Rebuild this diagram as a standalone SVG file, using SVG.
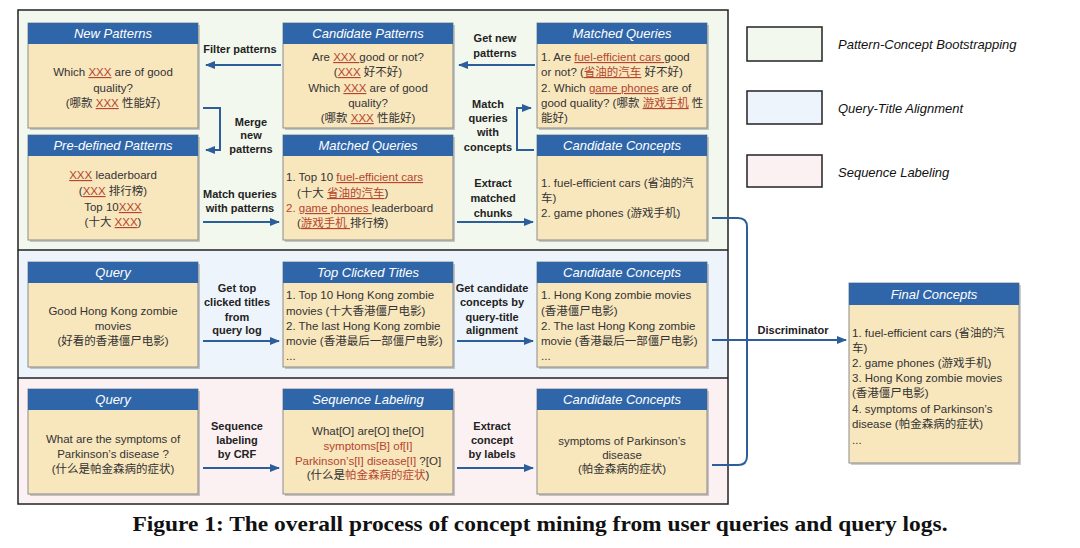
<svg xmlns="http://www.w3.org/2000/svg" width="1080" height="548" viewBox="0 0 1080 548">
<defs>
<marker id="ah" markerWidth="10" markerHeight="8" refX="9" refY="4" orient="auto" markerUnits="userSpaceOnUse"><path d="M0,0 L10,4 L0,8 z" fill="#2c5e9c"/></marker>
</defs>
<style>
.box{fill:#f8e6bd;stroke:#8c8c8c;stroke-width:1}
.sh{fill:#000;opacity:0.2}
.hd{fill:#2f66a9}
.ht{font-family:"Liberation Sans","Noto Sans CJK SC",sans-serif;font-size:13px;font-style:italic;fill:#fff;text-anchor:middle}
.t{font-family:"Liberation Sans","Noto Sans CJK SC",sans-serif;font-size:11.5px;fill:#333}
.c{text-anchor:middle}
.r{fill:#b4452e}
.u{text-decoration:underline}
.lb{font-family:"Liberation Sans",sans-serif;font-size:11px;font-weight:bold;fill:#222;text-anchor:middle}
.cn{fill:none;stroke:#2c5e9c;stroke-width:2}
.lg{font-family:"Liberation Sans",sans-serif;font-size:13px;font-style:italic;fill:#111}
.cap{font-family:"Liberation Serif",serif;font-size:21px;font-weight:bold;fill:#111;text-anchor:middle}
</style>
<rect x="0" y="0" width="1080" height="548" fill="#fff"/>
<g id="panels">
<rect x="18" y="10" width="710" height="240" fill="#f3f8ee"/>
<rect x="18" y="250" width="710" height="128" fill="#eef4fb"/>
<rect x="18" y="378" width="710" height="126" fill="#fbf1f2"/>
<line x1="18" y1="250" x2="728" y2="250" stroke="#222" stroke-width="1.5"/>
<line x1="18" y1="378" x2="728" y2="378" stroke="#222" stroke-width="1.5"/>
<rect x="18" y="10" width="710" height="494" fill="none" stroke="#222" stroke-width="1.5"/>
</g>
<g id="legend">
<rect x="747" y="27" width="75" height="34" fill="#f3f8ee" stroke="#222" stroke-width="1.5"/>
<text class="lg" x="838" y="49">Pattern-Concept Bootstrapping</text>
<rect x="747" y="91" width="75" height="33" fill="#eef4fb" stroke="#222" stroke-width="1.5"/>
<text class="lg" x="838" y="113">Query-Title Alignment</text>
<rect x="747" y="155" width="75" height="32" fill="#fbf1f2" stroke="#222" stroke-width="1.5"/>
<text class="lg" x="838" y="177">Sequence Labeling</text>
</g>
<g id="connectors">
<path class="cn" d="M281,65 H206" marker-end="url(#ah)"/>
<text class="lb" x="240" y="53">Filter patterns</text>
<path class="cn" d="M535,65 H459" marker-end="url(#ah)"/>
<text class="lb" x="495" y="42">Get new</text>
<text class="lb" x="495" y="57">patterns</text>
<path class="cn" d="M203,108 H220 V150 H206" marker-end="url(#ah)"/>
<text class="lb" x="251" y="126">Merge</text>
<text class="lb" x="251" y="139">new</text>
<text class="lb" x="251" y="153">patterns</text>
<path class="cn" d="M203,222 H279" marker-end="url(#ah)"/>
<text class="lb" x="240" y="198">Match queries</text>
<text class="lb" x="240" y="212">with patterns</text>
<path class="cn" d="M534,150 H517 V108 H531" marker-end="url(#ah)"/>
<text class="lb" x="488" y="108">Match</text>
<text class="lb" x="488" y="122">queries</text>
<text class="lb" x="488" y="136">with</text>
<text class="lb" x="488" y="151">concepts</text>
<path class="cn" d="M457,222 H533" marker-end="url(#ah)"/>
<text class="lb" x="493" y="187">Extract</text>
<text class="lb" x="493" y="202">matched</text>
<text class="lb" x="493" y="217">chunks</text>
<path class="cn" d="M203,341 H279" marker-end="url(#ah)"/>
<text class="lb" x="237" y="292">Get top</text>
<text class="lb" x="237" y="306">clicked titles</text>
<text class="lb" x="237" y="321">from</text>
<text class="lb" x="237" y="334">query log</text>
<path class="cn" d="M457,341 H533" marker-end="url(#ah)"/>
<text class="lb" x="492" y="292">Get candidate</text>
<text class="lb" x="492" y="306">concepts by</text>
<text class="lb" x="492" y="321">query-title</text>
<text class="lb" x="492" y="334">alignment</text>
<path class="cn" d="M203,468 H279" marker-end="url(#ah)"/>
<text class="lb" x="237" y="430">Sequence</text>
<text class="lb" x="237" y="444">labeling</text>
<text class="lb" x="237" y="458">by CRF</text>
<path class="cn" d="M457,468 H533" marker-end="url(#ah)"/>
<text class="lb" x="492" y="430">Extract</text>
<text class="lb" x="492" y="444">concept</text>
<text class="lb" x="492" y="458">by labels</text>
<path class="cn" d="M712,218 H738 Q747,218 747,227 V456 Q747,465 738,465 H712"/>
<path class="cn" d="M712,340 H747"/>
<path class="cn" d="M747,340 H846" marker-end="url(#ah)"/>
<text class="lb" x="793" y="334">Discriminator</text>
</g>
<g id="new-patterns">
<rect class="sh" x="30" y="25" width="170" height="105"/>
<rect class="box" x="28" y="23" width="170" height="105"/>
<rect class="hd" x="28" y="23" width="170" height="21"/>
<text class="ht" x="113" y="38">New Patterns</text>
<text class="t c" x="113" y="76">Which <tspan class="r u">XXX</tspan> are of good</text>
<text class="t c" x="113" y="92">quality?</text>
<text class="t c" x="113" y="107">(哪款 <tspan class="r u">XXX</tspan> 性能好)</text>
</g>
<g id="candidate-patterns">
<rect class="sh" x="285" y="25" width="170" height="105"/>
<rect class="box" x="283" y="23" width="170" height="105"/>
<rect class="hd" x="283" y="23" width="170" height="21"/>
<text class="ht" x="368" y="38">Candidate Patterns</text>
<text class="t c" x="368" y="61">Are <tspan class="r u">XXX </tspan>good or not?</text>
<text class="t c" x="368" y="76">(<tspan class="r u">XXX</tspan> 好不好)</text>
<text class="t c" x="368" y="92">Which <tspan class="r u">XXX</tspan> are of good</text>
<text class="t c" x="368" y="107">quality?</text>
<text class="t c" x="368" y="122">(哪款 <tspan class="r u">XXX</tspan> 性能好)</text>
</g>
<g id="matched-queries-top">
<rect class="sh" x="539" y="25" width="170" height="105"/>
<rect class="box" x="537" y="23" width="170" height="105"/>
<rect class="hd" x="537" y="23" width="170" height="21"/>
<text class="ht" x="622" y="38">Matched Queries</text>
<text class="t" x="541" y="61">1. Are <tspan class="r u">fuel-efficient cars </tspan>good</text>
<text class="t" x="541" y="76">or not? (<tspan class="r u">省油的汽车</tspan> 好不好)</text>
<text class="t" x="541" y="92">2. Which <tspan class="r u">game phones</tspan> are of</text>
<text class="t" x="541" y="107">good quality? (哪款 <tspan class="r u">游戏手机</tspan> 性</text>
<text class="t" x="541" y="122">能好)</text>
</g>
<g id="predefined-patterns">
<rect class="sh" x="30" y="137" width="170" height="105"/>
<rect class="box" x="28" y="135" width="170" height="105"/>
<rect class="hd" x="28" y="135" width="170" height="21"/>
<text class="ht" x="113" y="150">Pre-defined Patterns</text>
<text class="t c" x="113" y="179"><tspan class="r u">XXX</tspan> leaderboard</text>
<text class="t c" x="113" y="195">(<tspan class="r u">XXX</tspan> 排行榜)</text>
<text class="t c" x="113" y="211">Top 10<tspan class="r u">XXX</tspan></text>
<text class="t c" x="113" y="226">(十大 <tspan class="r u">XXX</tspan>)</text>
</g>
<g id="matched-queries-mid">
<rect class="sh" x="285" y="137" width="170" height="105"/>
<rect class="box" x="283" y="135" width="170" height="105"/>
<rect class="hd" x="283" y="135" width="170" height="21"/>
<text class="ht" x="368" y="150">Matched Queries</text>
<text class="t" x="286" y="181">1. Top 10 <tspan class="r u">fuel-efficient cars</tspan></text>
<text class="t" x="297" y="197">(十大 <tspan class="r u">省油的汽车</tspan>)</text>
<text class="t" x="286" y="212"><tspan class="r">2. </tspan><tspan class="r u">game phones </tspan>leaderboard</text>
<text class="t" x="297" y="227">(<tspan class="r u">游戏手机 </tspan>排行榜)</text>
</g>
<g id="candidate-concepts-top">
<rect class="sh" x="539" y="137" width="170" height="105"/>
<rect class="box" x="537" y="135" width="170" height="105"/>
<rect class="hd" x="537" y="135" width="170" height="21"/>
<text class="ht" x="622" y="150">Candidate Concepts</text>
<text class="t" x="541" y="187">1. fuel-efficient cars (省油的汽</text>
<text class="t" x="541" y="202">车)</text>
<text class="t" x="541" y="217">2. game phones (游戏手机)</text>
</g>
<g id="query-1">
<rect class="sh" x="30" y="264" width="170" height="105"/>
<rect class="box" x="28" y="262" width="170" height="105"/>
<rect class="hd" x="28" y="262" width="170" height="21"/>
<text class="ht" x="113" y="277">Query</text>
<text class="t c" x="113" y="315">Good Hong Kong zombie</text>
<text class="t c" x="113" y="330">movies</text>
<text class="t c" x="113" y="345">(好看的香港僵尸电影)</text>
</g>
<g id="top-clicked-titles">
<rect class="sh" x="285" y="264" width="170" height="105"/>
<rect class="box" x="283" y="262" width="170" height="105"/>
<rect class="hd" x="283" y="262" width="170" height="21"/>
<text class="ht" x="368" y="277">Top Clicked Titles</text>
<text class="t" x="286" y="299">1. Top 10 Hong Kong zombie</text>
<text class="t" x="286" y="315">movies (十大香港僵尸电影)</text>
<text class="t" x="286" y="330">2. The last Hong Kong zombie</text>
<text class="t" x="286" y="345">movie (香港最后一部僵尸电影)</text>
<text class="t" x="286" y="360">...</text>
</g>
<g id="candidate-concepts-mid">
<rect class="sh" x="539" y="264" width="170" height="105"/>
<rect class="box" x="537" y="262" width="170" height="105"/>
<rect class="hd" x="537" y="262" width="170" height="21"/>
<text class="ht" x="622" y="277">Candidate Concepts</text>
<text class="t" x="541" y="299">1. Hong Kong zombie movies</text>
<text class="t" x="541" y="315">(香港僵尸电影)</text>
<text class="t" x="541" y="330">2. The last Hong Kong zombie</text>
<text class="t" x="541" y="345">movie (香港最后一部僵尸电影)</text>
<text class="t" x="541" y="360">...</text>
</g>
<g id="query-2">
<rect class="sh" x="30" y="391" width="170" height="105"/>
<rect class="box" x="28" y="389" width="170" height="105"/>
<rect class="hd" x="28" y="389" width="170" height="21"/>
<text class="ht" x="113" y="404">Query</text>
<text class="t c" x="113" y="443">What are the symptoms of</text>
<text class="t c" x="113" y="458">Parkinson’s disease ?</text>
<text class="t c" x="113" y="473">(什么是帕金森病的症状)</text>
</g>
<g id="sequence-labeling">
<rect class="sh" x="285" y="391" width="170" height="105"/>
<rect class="box" x="283" y="389" width="170" height="105"/>
<rect class="hd" x="283" y="389" width="170" height="21"/>
<text class="ht" x="368" y="404">Sequence Labeling</text>
<text class="t c" x="368" y="435">What[O] are[O] the[O]</text>
<text class="t c r" x="368" y="450">symptoms[B] of[I]</text>
<text class="t c" x="368" y="465"><tspan class="r">Parkinson’s[I] disease[I]</tspan> ?[O]</text>
<text class="t c" x="368" y="479">(什么是<tspan class="r">帕金森病的症状</tspan>)</text>
</g>
<g id="candidate-concepts-bottom">
<rect class="sh" x="539" y="391" width="170" height="105"/>
<rect class="box" x="537" y="389" width="170" height="105"/>
<rect class="hd" x="537" y="389" width="170" height="21"/>
<text class="ht" x="622" y="404">Candidate Concepts</text>
<text class="t c" x="622" y="445">symptoms of Parkinson’s</text>
<text class="t c" x="622" y="459">disease</text>
<text class="t c" x="622" y="473">(帕金森病的症状)</text>
</g>
<g id="final-concepts">
<rect class="sh" x="851" y="285" width="170" height="180"/>
<rect class="box" x="849" y="283" width="170" height="180"/>
<rect class="hd" x="849" y="283" width="170" height="22"/>
<text class="ht" x="934" y="299">Final Concepts</text>
<text class="t" x="852" y="337">1. fuel-efficient cars (省油的汽</text>
<text class="t" x="852" y="352">车)</text>
<text class="t" x="852" y="367">2. game phones (游戏手机)</text>
<text class="t" x="852" y="382">3. Hong Kong zombie movies</text>
<text class="t" x="852" y="397">(香港僵尸电影)</text>
<text class="t" x="852" y="413">4. symptoms of Parkinson’s</text>
<text class="t" x="852" y="428">disease (帕金森病的症状)</text>
<text class="t" x="852" y="444">...</text>
</g>
<text class="cap" x="540" y="531" textLength="815" lengthAdjust="spacingAndGlyphs">Figure 1: The overall process of concept mining from user queries and query logs.</text>
</svg>
